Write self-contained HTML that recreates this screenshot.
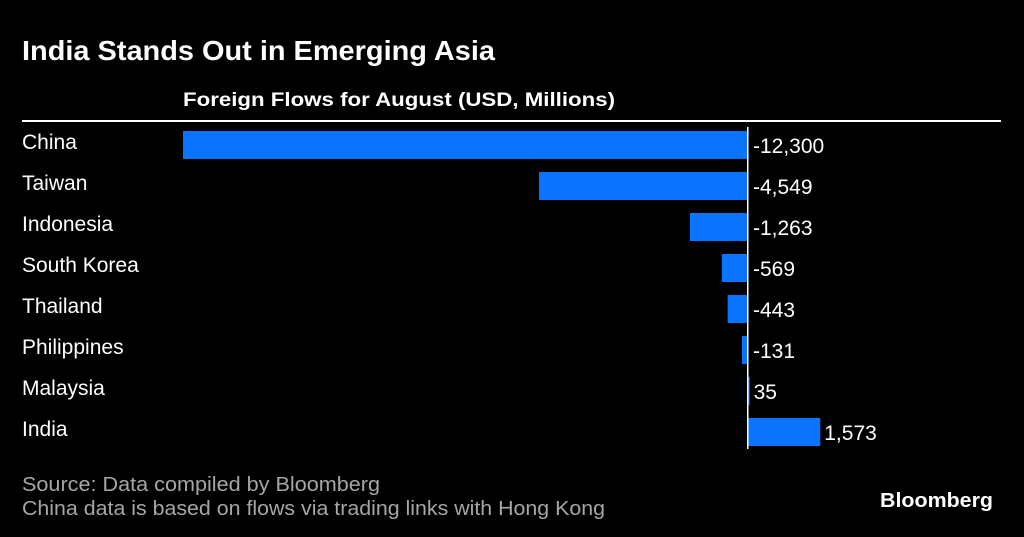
<!DOCTYPE html>
<html><head><meta charset="utf-8"><style>
html,body{margin:0;padding:0;background:#000;}
svg{display:block;font-family:"Liberation Sans",sans-serif;}
</style></head><body>
<svg id="chart" width="1024" height="537" viewBox="0 0 1024 537">
<rect width="1024" height="537" fill="#000"/>
<text x="22" y="60" fill="#fff" font-size="28" font-weight="bold" textLength="473" lengthAdjust="spacingAndGlyphs">India Stands Out in Emerging Asia</text>
<text x="183" y="106" fill="#fff" font-size="19" font-weight="bold" textLength="432" lengthAdjust="spacingAndGlyphs">Foreign Flows for August (USD, Millions)</text>
<rect x="22" y="120" width="979" height="2" fill="#fff"/>
<g id="bars"></g>
<text x="22" y="491" fill="#a6a6a6" font-size="20" textLength="358" lengthAdjust="spacingAndGlyphs">Source: Data compiled by Bloomberg</text>
<text x="22" y="515" fill="#a6a6a6" font-size="20" textLength="583" lengthAdjust="spacingAndGlyphs">China data is based on flows via trading links with Hong Kong</text>
<text x="993" y="507" fill="#fff" font-size="20" font-weight="bold" text-anchor="end" textLength="113" lengthAdjust="spacingAndGlyphs">Bloomberg</text>
</svg>
<script>
const categories = ["China","Taiwan","Indonesia","South Korea","Thailand","Philippines","Malaysia","India"];
const values = [-12300,-4549,-1263,-569,-443,-131,35,1573];
const valueLabels = ["-12,300","-4,549","-1,263","-569","-443","-131","35","1,573"];

const NS = "http://www.w3.org/2000/svg";
const g = document.getElementById("bars");
const zeroX = 748, scale = 565/12300;
const x = v => zeroX + v*scale;
const rowTop = i => 131 + i*41;
const barH = 28;
function mk(tag, attrs){const e=document.createElementNS(NS,tag);for(const k in attrs)e.setAttribute(k,attrs[k]);g.appendChild(e);return e;}
categories.forEach((c,i)=>{
  const v = values[i];
  const x0 = Math.min(x(0), x(v)), w = Math.max(1.5, Math.abs(x(v)-x(0)));
  const lab = mk("text",{x:22,y:rowTop(i)+18,fill:"#fff","font-size":21});
  lab.textContent = c;
  
  
  const r = mk("rect",{x:x0,y:rowTop(i),width:w,height:barH,fill:"#0a74ff"});
  
  
  const vx = v < 0 ? zeroX + 5 : x(v) + 4;
  const t = mk("text",{x:vx,y:rowTop(i)+22,fill:"#fff","font-size":21});
  t.textContent = valueLabels[i];
  
  
});
const axis = mk("rect",{x:zeroX-1,y:127,width:1.5,height:322,fill:"#fff"});


</script>
</body></html>
